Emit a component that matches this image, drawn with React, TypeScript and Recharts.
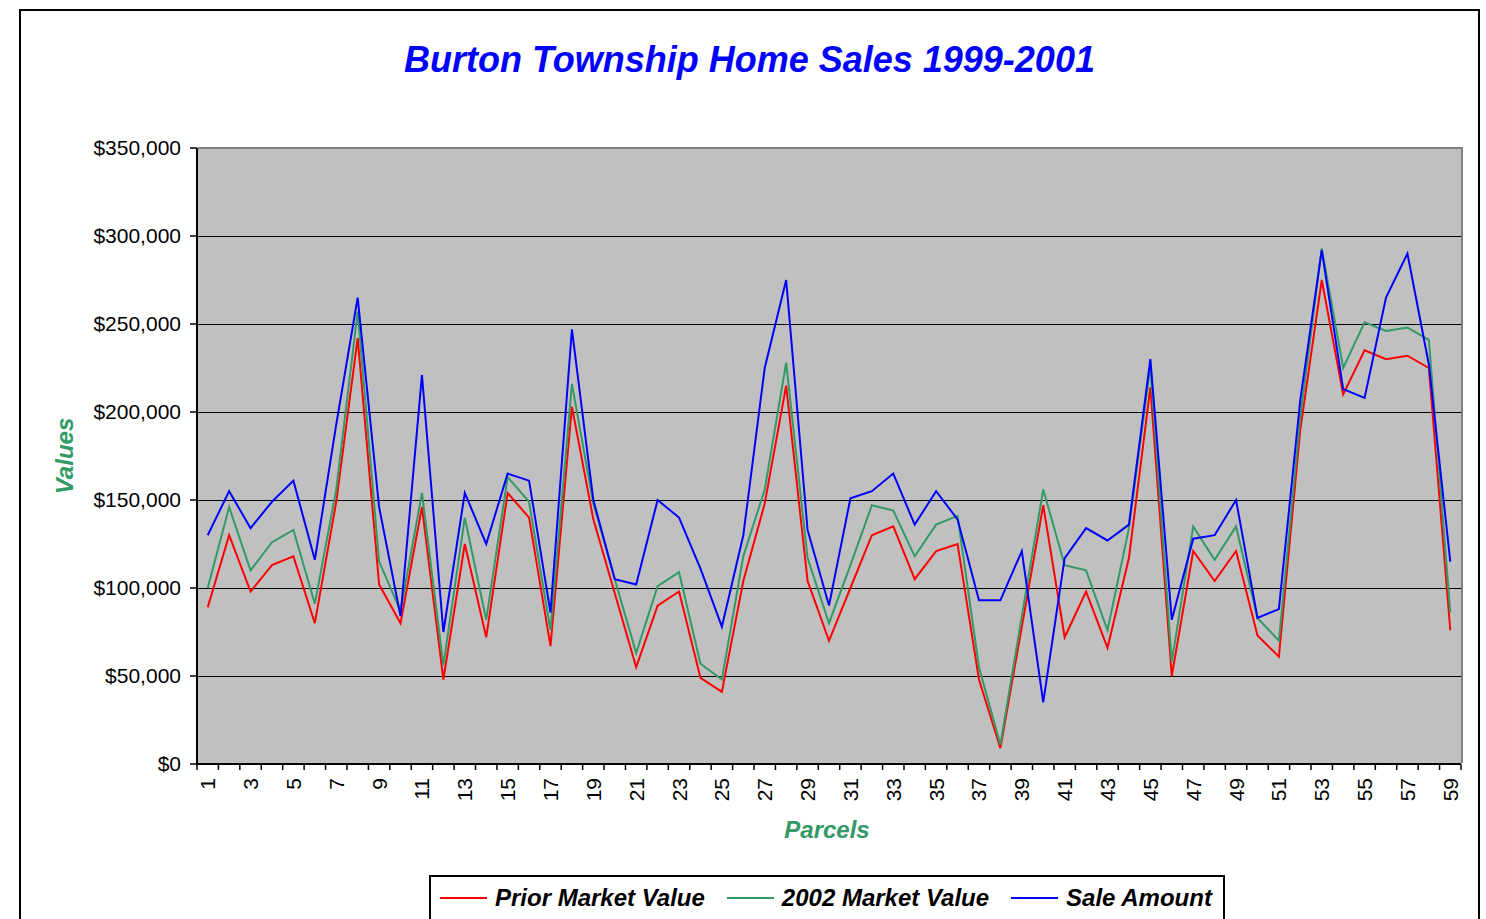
import { LineChart, Line, XAxis, YAxis, CartesianGrid } from "recharts";

const parcels = [
  1, 2, 3, 4, 5, 6, 7, 8, 9, 10, 11, 12, 13, 14, 15, 16, 17, 18, 19, 20,
  21, 22, 23, 24, 25, 26, 27, 28, 29, 30, 31, 32, 33, 34, 35, 36, 37, 38, 39, 40,
  41, 42, 43, 44, 45, 46, 47, 48, 49, 50, 51, 52, 53, 54, 55, 56, 57, 58, 59,
];

const priorMarketValue = [
  89000, 130000, 98000, 113000, 118000, 80000, 149000, 242000, 102000, 80000,
  146000, 48000, 125000, 72000, 154000, 140000, 67000, 203000, 139000, 97000,
  55000, 90000, 98000, 49000, 41000, 104000, 148000, 215000, 104000, 70000,
  100000, 130000, 135000, 105000, 121000, 125000, 48000, 9000, 78000, 147000,
  72000, 98000, 66000, 117000, 214000, 50000, 121000, 104000, 121000, 73000,
  61000, 190000, 275000, 210000, 235000, 230000, 232000, 225000, 76000,
];

const marketValue2002 = [
  100000, 146000, 110000, 126000, 133000, 91000, 156000, 257000, 115000, 87000,
  154000, 56000, 140000, 82000, 163000, 149000, 76000, 216000, 148000, 105000,
  63000, 101000, 109000, 57000, 48000, 118000, 156000, 228000, 117000, 80000,
  113000, 147000, 144000, 118000, 136000, 141000, 55000, 11000, 84000, 156000,
  113000, 110000, 76000, 134000, 226000, 58000, 135000, 116000, 135000, 83000,
  70000, 197000, 293000, 225000, 251000, 246000, 248000, 241000, 86000,
];

const saleAmount = [
  130000, 155000, 134000, 149000, 161000, 116000, 193000, 265000, 146000, 84000,
  221000, 75000, 154000, 125000, 165000, 161000, 86000, 247000, 150000, 105000,
  102000, 150000, 140000, 111000, 78000, 130000, 225000, 275000, 133000, 90000,
  151000, 155000, 165000, 136000, 155000, 139000, 93000, 93000, 121000, 35000,
  117000, 134000, 127000, 136000, 230000, 82000, 128000, 130000, 150000, 83000,
  88000, 207000, 292000, 213000, 208000, 265000, 290000, 227000, 115000,
];

const yTicks = [0, 50000, 100000, 150000, 200000, 250000, 300000, 350000];

const series = [
  { key: "prior", name: "Prior Market Value", color: "#FF0000" },
  { key: "mv2002", name: "2002 Market Value", color: "#339966" },
  { key: "sale", name: "Sale Amount", color: "#0000FF" },
];

const data = parcels.map((p, i) => ({
  parcel: p,
  prior: priorMarketValue[i],
  mv2002: marketValue2002[i],
  sale: saleAmount[i],
}));

const W = 1486;
const H = 919;
const PLOT_LEFT = 197;
const PLOT_TOP = 148;
const PLOT_RIGHT = 1461;
const PLOT_BOTTOM = 764;
const BAND = (PLOT_RIGHT - PLOT_LEFT) / parcels.length;
const FONT = "'Liberation Sans', Arial, sans-serif";

const money = (v: number) => "$" + v.toLocaleString("en-US");

function XTick(props: any) {
  const { x, payload } = props;
  const v = payload.value;
  const last = v === parcels[parcels.length - 1];
  return (
    <g>
      <line x1={x - BAND / 2} y1={PLOT_BOTTOM} x2={x - BAND / 2} y2={PLOT_BOTTOM + 6} stroke="#000" strokeWidth={1.5} />
      {last && (
        <line x1={x + BAND / 2} y1={PLOT_BOTTOM} x2={x + BAND / 2} y2={PLOT_BOTTOM + 6} stroke="#000" strokeWidth={1.5} />
      )}
      {v % 2 === 1 && (
        <text
          transform={`translate(${x},${PLOT_BOTTOM + 14}) rotate(-90)`}
          textAnchor="end"
          dominantBaseline="central"
          fontSize={21}
          fontFamily={FONT}
          fill="#000"
        >
          {v}
        </text>
      )}
    </g>
  );
}

function GridLine(props: any) {
  const { x1, x2, y1 } = props;
  const y = Math.round(y1) + 0.5;
  return <line x1={x1} x2={x2} y1={y} y2={y} stroke="#000" strokeWidth={1} shapeRendering="crispEdges" />;
}

export default function App() {
  return (
    <div style={{ position: "absolute", left: 0, top: 0, width: W, height: H, overflow: "hidden", background: "#fff" }}>
      {/* outer chart frame */}
      <div
        style={{
          position: "absolute",
          left: 19,
          top: 9,
          width: 1461,
          height: 960,
          border: "2px solid #000",
          boxSizing: "border-box",
        }}
      />
      <div
        style={{
          position: "absolute",
          left: 20,
          width: 1459,
          top: 40,
          lineHeight: "40px",
          textAlign: "center",
          color: "#0000FF",
          fontFamily: FONT,
          fontWeight: "bold",
          fontStyle: "italic",
          fontSize: 36,
        }}
      >
        Burton Township Home Sales 1999-2001
      </div>

      <div style={{ position: "absolute", left: 0, top: 0 }}>
        <LineChart
          width={W}
          height={H}
          data={data}
          margin={{ top: PLOT_TOP, right: W - PLOT_RIGHT, bottom: H - PLOT_BOTTOM - 60, left: PLOT_LEFT - 100 }}
        >
          <CartesianGrid vertical={false} fill="#C0C0C0" fillOpacity={1} horizontal={GridLine} />
          <XAxis
            dataKey="parcel"
            type="category"
            height={60}
            interval={0}
            padding={{ left: BAND / 2, right: BAND / 2 }}
            tickLine={false}
            axisLine={{ stroke: "#000", strokeWidth: 2 }}
            tick={<XTick />}
          />
          <YAxis
            width={100}
            domain={[0, 350000]}
            ticks={yTicks}
            interval={0}
            tickFormatter={money}
            tickSize={7}
            tickMargin={9}
            axisLine={{ stroke: "#000", strokeWidth: 2 }}
            tickLine={{ stroke: "#000", strokeWidth: 1.5 }}
            tick={{ fill: "#000", fontSize: 21, fontFamily: FONT }}
          />
          {series.map((s) => (
            <Line
              key={s.key}
              dataKey={s.key}
              name={s.name}
              type="linear"
              stroke={s.color}
              strokeWidth={2}
              dot={false}
              activeDot={false}
              isAnimationActive={false}
            />
          ))}
        </LineChart>
      </div>

      {/* gray plot border on top and right */}
      <div
        style={{
          position: "absolute",
          left: PLOT_LEFT + 1,
          top: PLOT_TOP - 1,
          width: PLOT_RIGHT - PLOT_LEFT + 1,
          height: PLOT_BOTTOM - PLOT_TOP,
          borderTop: "2px solid #808080",
          borderRight: "2px solid #808080",
          boxSizing: "border-box",
          pointerEvents: "none",
        }}
      />

      <div
        style={{
          position: "absolute",
          left: 65,
          top: 456,
          transform: "translate(-50%, -50%) rotate(-90deg)",
          color: "#339966",
          fontFamily: FONT,
          fontWeight: "bold",
          fontStyle: "italic",
          fontSize: 24,
          whiteSpace: "nowrap",
        }}
      >
        Values
      </div>
      <div
        style={{
          position: "absolute",
          left: 827,
          top: 830,
          transform: "translate(-50%, -50%)",
          color: "#339966",
          fontFamily: FONT,
          fontWeight: "bold",
          fontStyle: "italic",
          fontSize: 24,
          whiteSpace: "nowrap",
        }}
      >
        Parcels
      </div>

      {/* legend */}
      <div
        style={{
          position: "absolute",
          left: 429,
          top: 875,
          width: 796,
          height: 80,
          border: "2px solid #000",
          boxSizing: "border-box",
          background: "#fff",
        }}
      >
        <div style={{ display: "flex", alignItems: "center", height: 42, paddingLeft: 9 }}>
          {series.map((s) => (
            <div key={s.key} style={{ display: "flex", alignItems: "center", marginRight: 22 }}>
              <div style={{ width: 47, height: 2, background: s.color, marginRight: 8 }} />
              <span
                style={{
                  fontFamily: FONT,
                  fontWeight: "bold",
                  fontStyle: "italic",
                  fontSize: 24,
                  color: "#000",
                  whiteSpace: "nowrap",
                }}
              >
                {s.name}
              </span>
            </div>
          ))}
        </div>
      </div>
    </div>
  );
}
